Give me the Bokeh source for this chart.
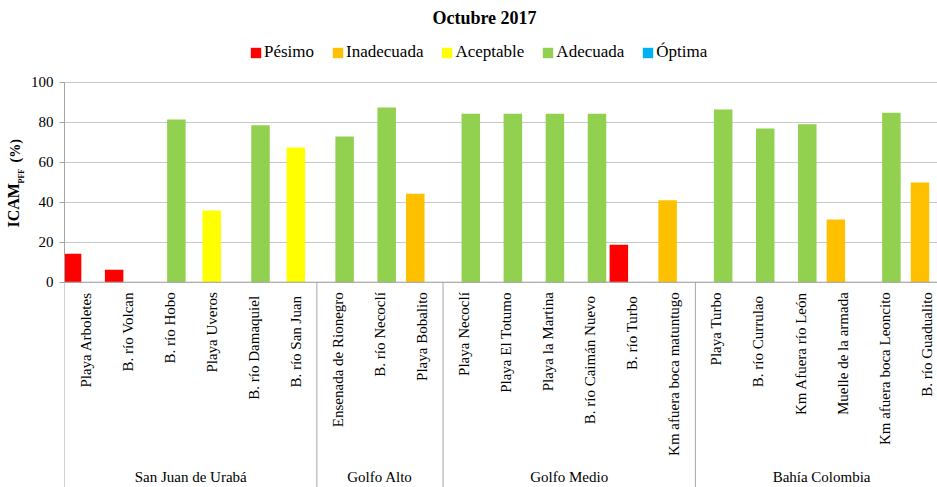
import math
from bokeh.plotting import figure
from bokeh.layouts import row
from bokeh.models import (ColumnDataSource, FixedTicker, Legend, LegendItem, Label,
                          Span, Range1d)
from bokeh.core.properties import value
from bokeh.transform import dodge
from bokeh.embed import file_html
from bokeh.resources import INLINE

# ---------------- data ----------------
title_text = "Octubre 2017"
regions = ["San Juan de Urabá", "Golfo Alto", "Golfo Medio", "Bahía Colombia"]
region_sizes = [6, 3, 6, 6]
stations = [
    "Playa Arboletes", "B. río Volcan", "B. río Hobo", "Playa Uveros",
    "B.  río Damaquiel", "B.  río San Juan",
    "Ensenada de Rionegro", "B. río Necoclí", "Playa Bobalito",
    "Playa Necoclí", "Playa El Totumo", "Playa la Martina",
    "B.  río Caimán Nuevo", "B.  río Turbo", "Km afuera boca matuntugo",
    "Playa Turbo", "B.  río Currulao", "Km Afuera río León",
    "Muelle de la armada", "Km afuera boca Leoncito", "B. río Guadualito",
]
categories = ["Pésimo", "Inadecuada", "Aceptable", "Adecuada", "Óptima"]
N = None
pesimo     = [14.2, 6.2, N, N, N, N, N, N, N, N, N, N, N, 18.7, N, N, N, N, N, N, N]
inadecuada = [N, N, N, N, N, N, N, N, 44.2, N, N, N, N, N, 41.0, N, N, N, 31.3, N, 49.8]
aceptable  = [N, N, N, 35.8, N, 67.3, N, N, N, N, N, N, N, N, N, N, N, N, N, N, N]
adecuada   = [N, N, 81.3, N, 78.5, N, 72.8, 87.3, N, 84.2, 84.2, 84.2, 84.2, N, N,
              86.3, 76.8, 79.0, N, 84.7, N]
optima     = [N] * 21
y_ticks = [0, 20, 40, 60, 80, 100]
y_label_main, y_label_sub, y_label_unit = "ICAM", "PFF", "(%)"

series = [pesimo, inadecuada, aceptable, adecuada, optima]
colors = ["#FF0000", "#FFC000", "#FFFF00", "#92D050", "#00B0F0"]

# ---------------- layout helpers ----------------
W, H = 937, 487
LAB_W = 26               # narrow figure holding the y-axis title
FRAME_LEFT = 64          # page px of plot frame left
SLOT = 42.06             # px per station
Y0 = 281.7               # page y of value 0
PXU = 2.0                # px per percent
x_start = -0.5
x_end = x_start + (W - FRAME_LEFT) / SLOT
y_end = Y0 / PXU
y_start = -(H - Y0) / PXU


def cx(page_x):
    return x_start + (page_x - FRAME_LEFT) / SLOT


def cy(page_y):
    return (Y0 - page_y) / PXU


FONT = "Liberation Serif"

# ---------------- y-axis title figure ----------------
lab = figure(width=LAB_W, height=H, x_range=Range1d(0, LAB_W), y_range=Range1d(0, H),
             output_backend="svg", toolbar_location=None, x_axis_location=None,
             y_axis_location=None, min_border=0, outline_line_color=None)
lab.xgrid.visible = False
lab.ygrid.visible = False
lab_src = ColumnDataSource(dict(
    x=[13.0, 20.8, 14.5], y=[H - 227, H - 183, H - 162],
    t=[y_label_main, y_label_sub, y_label_unit],
    s=["16px", "8px", "14px"]))
lab.text(x="x", y="y", text="t", source=lab_src, angle=math.pi / 2,
         text_align="left", text_baseline="middle", text_font=value(FONT),
         text_font_size="s", text_font_style="bold", text_color="#000000")

# ---------------- main figure ----------------
p = figure(width=W - LAB_W, height=H, x_range=Range1d(x_start, x_end),
           y_range=Range1d(y_start, y_end), output_backend="svg",
           toolbar_location=None, x_axis_location=None,
           min_border_left=FRAME_LEFT - LAB_W, min_border_right=0, min_border_top=0,
           min_border_bottom=0, outline_line_color=None)

ticker = FixedTicker(ticks=y_ticks)
yax = p.yaxis[0]
yax.ticker = ticker
yax.bounds = (y_ticks[0], y_ticks[-1])
yax.axis_line_color = "#a6a6a6"
yax.major_tick_line_color = "#a6a6a6"
yax.major_tick_out = 5
yax.major_tick_in = 0
yax.minor_tick_line_color = None
yax.major_label_standoff = 6
yax.major_label_text_font = FONT
yax.major_label_text_font_size = "15px"
yax.major_label_text_color = "#000000"
p.ygrid.ticker = ticker
p.ygrid.grid_line_color = "#c8c8c8"
p.xgrid.visible = False

# bars
offsets = [-0.32, -0.16, 0.0, 0.16, 0.32]
bar_w = 0.44
renderers = []
for vals, color, off in zip(series, colors, offsets):
    xs = [i for i, v in enumerate(vals) if v is not None]
    tops = [vals[i] for i in xs]
    if not xs:  # keep one empty row so the legend swatch is drawn
        xs, tops = [0], [float("nan")]
    src = ColumnDataSource(dict(x=xs, top=tops))
    r = p.vbar(x=dodge("x", off), top="top", bottom=0, width=bar_w, source=src,
               fill_color=color, line_color=None)
    renderers.append(r)

# zero line
p.add_layout(Span(location=0, dimension="width", line_color="#a6a6a6", line_width=1))

# group separators
bounds = [-0.5]
for s in region_sizes:
    bounds.append(bounds[-1] + s)
p.segment(x0=bounds, y0=[0] * len(bounds), x1=bounds, y1=[y_start] * len(bounds),
          line_color="#a6a6a6", line_width=1)

# station labels
st_src = ColumnDataSource(dict(x=list(range(len(stations))), y=[0] * len(stations),
                               name=stations))
p.text(x="x", y="y", text="name", source=st_src, angle=math.pi / 2,
       text_align="right", text_baseline="middle", y_offset=10,
       text_font=value(FONT), text_font_size="15px", text_color="#000000")

# region labels
centers = [(bounds[i] + bounds[i + 1]) / 2 for i in range(len(regions))]
rg_src = ColumnDataSource(dict(x=centers, y=[cy(476.7)] * len(regions), name=regions))
p.text(x="x", y="y", text="name", source=rg_src, text_align="center",
       text_baseline="middle", text_font=value(FONT), text_font_size="15px",
       text_color="#000000")

# title
p.add_layout(Label(x=cx(484), y=cy(17.5), text=title_text, text_align="center",
                   text_baseline="middle", text_font=FONT, text_font_size="18px",
                   text_font_style="bold", text_color="#000000"))

# legend
legend = Legend(items=[LegendItem(label=c, renderers=[r]) for c, r in zip(categories, renderers)],
                orientation="horizontal", location=(185, 425),
                glyph_width=13, glyph_height=13, label_standoff=2, spacing=17,
                padding=0, margin=0, border_line_color=None,
                background_fill_alpha=0, label_height=13,
                label_text_font=FONT, label_text_font_size="17px",
                label_text_color="#000000")
p.add_layout(legend)

layout = row(lab, p, spacing=0)
open("out.html", "w").write(file_html(layout, INLINE))
